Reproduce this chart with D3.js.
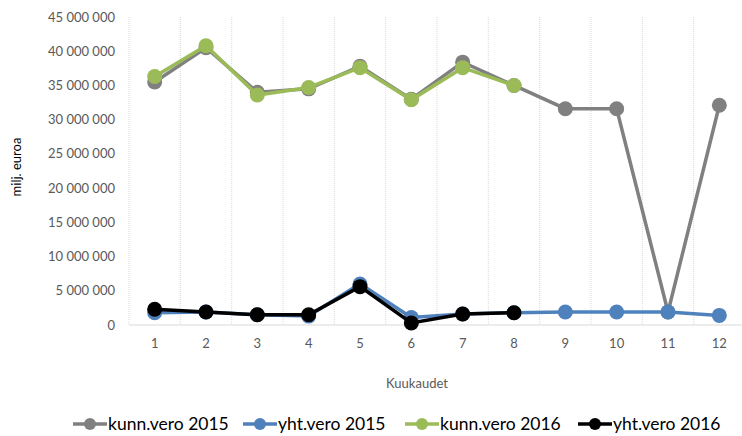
<!DOCTYPE html>
<html>
<head>
<meta charset="utf-8">
<script src="https://cdn.jsdelivr.net/npm/d3@7"></script>
<style>
  body { margin: 0; background: #fff; }
  text { font-family: Lato, "Liberation Sans", sans-serif; }
</style>
</head>
<body>
<svg id="canvas" width="742" height="436"></svg>
<script>
var months = [1, 2, 3, 4, 5, 6, 7, 8, 9, 10, 11, 12];
var yTicks = [0, 5e6, 10e6, 15e6, 20e6, 25e6, 30e6, 35e6, 40e6, 45e6];

var kunn2015 = [35.5e6, 40.5e6, 34.0e6, 34.5e6, 37.8e6, 33.0e6, 38.4e6, 35.0e6, 31.6e6, 31.6e6, 1.9e6, 32.1e6];
var yht2015 = [1.8e6, 1.9e6, 1.5e6, 1.3e6, 6.0e6, 1.1e6, 1.6e6, 1.8e6, 1.9e6, 1.9e6, 1.9e6, 1.4e6];
var kunn2016 = [36.3e6, 40.8e6, 33.6e6, 34.7e6, 37.6e6, 32.9e6, 37.6e6, 35.0e6];
var yht2016 = [2.3e6, 1.9e6, 1.5e6, 1.5e6, 5.6e6, 0.3e6, 1.6e6, 1.8e6];

var seriesNames = ["kunn.vero 2015", "yht.vero 2015", "kunn.vero 2016", "yht.vero 2016"];
var seriesColors = ["#808080", "#4f81bd", "#9bbb59", "#000000"];
var seriesData = [kunn2015, yht2015, kunn2016, yht2016];

var svg = d3.select("#canvas");
var plotLeft = 129, plotRight = 745, plotTop = 17, plotBottom = 325;

var x = d3.scaleBand().domain(months).range([plotLeft, plotRight]);
var y = d3.scaleLinear().domain([0, 45e6]).range([plotBottom, plotTop]);

// vertical dotted gridlines at category boundaries
var bounds = months.map(function(m){ return x(m); });
svg.append("g").selectAll("line").data(bounds).enter().append("line")
    .attr("x1", function(d){ return d; })
    .attr("x2", function(d){ return d; })
    .attr("y1", plotTop)
    .attr("y2", plotBottom)
    .attr("stroke", "#d9d9d9")
    .attr("stroke-dasharray", "1,1");

// x axis line
svg.append("line")
    .attr("x1", plotLeft).attr("x2", plotRight)
    .attr("y1", plotBottom).attr("y2", plotBottom)
    .attr("stroke", "#d9d9d9");

// y tick labels
function fmt(v){
    return d3.format(",")(v).replace(/,/g, " ");
}
svg.append("g").selectAll("text").data(yTicks).enter().append("text")
    .attr("x", 115)
    .attr("y", function(d){ return y(d); })
    .attr("dy", "0.35em")
    .attr("text-anchor", "end")
    .attr("font-size", 13)
    .attr("fill", "#595959")
    .text(fmt);

// x tick labels
svg.append("g").selectAll("text").data(months).enter().append("text")
    .attr("x", function(d){ return x(d) + x.bandwidth()/2; })
    .attr("y", 348)
    .attr("text-anchor", "middle")
    .attr("font-size", 13)
    .attr("fill", "#595959")
    .text(function(d){ return d; });

// axis titles
svg.append("text")
    .attr("transform", "translate(21,167) rotate(-90)")
    .attr("text-anchor", "middle")
    .attr("font-size", 13)
    .attr("fill", "#000")
    .text("milj. euroa");

svg.append("text")
    .attr("x", 417)
    .attr("y", 388)
    .attr("text-anchor", "middle")
    .attr("font-size", 13)
    .attr("fill", "#595959")
    .text("Kuukaudet");

// series
var line = d3.line()
    .x(function(d, i){ return x(months[i]) + x.bandwidth()/2; })
    .y(function(d){ return y(d); });

for (var s = 0; s < seriesData.length; s++){
    var g = svg.append("g");
    g.append("path")
        .attr("d", line(seriesData[s]))
        .attr("fill", "none")
        .attr("stroke", seriesColors[s])
        .attr("stroke-width", 3.5);
    g.selectAll("circle").data(seriesData[s]).enter().append("circle")
        .attr("cx", function(d, i){ return x(months[i]) + x.bandwidth()/2; })
        .attr("cy", function(d){ return y(d); })
        .attr("r", 7.5)
        .attr("fill", seriesColors[s]);
}

// legend
var legendX = [73, 243, 405, 578];
for (var k = 0; k < seriesNames.length; k++){
    var lg = svg.append("g").attr("transform", "translate(" + legendX[k] + ",424)");
    lg.append("line")
        .attr("x1", 0).attr("x2", 34)
        .attr("y1", 0).attr("y2", 0)
        .attr("stroke", seriesColors[k])
        .attr("stroke-width", 3.5);
    lg.append("circle")
        .attr("cx", 17).attr("cy", 0).attr("r", 6)
        .attr("fill", seriesColors[k]);
    lg.append("text")
        .attr("x", 35)
        .attr("y", 0)
        .attr("dy", "0.35em")
        .attr("font-size", 17.5)
        .attr("fill", "#000")
        .text(seriesNames[k]);
}
</script>
</body>
</html>
